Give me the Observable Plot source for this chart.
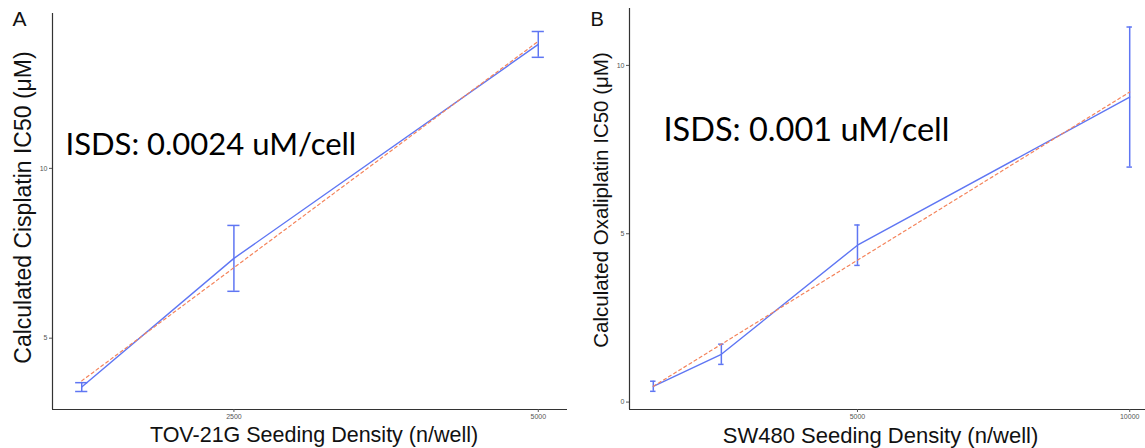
<!DOCTYPE html>
<html><head><meta charset="utf-8">
<script src="https://cdn.jsdelivr.net/npm/d3@7"></script>
<script src="https://cdn.jsdelivr.net/npm/@observablehq/plot@0.6"></script>
<style>
html,body{margin:0;padding:0;background:#fff;overflow:hidden;width:1145px;height:448px}
#wrap{position:relative;width:1145px;height:448px;overflow:hidden}
.panel{position:absolute;top:0}
</style></head><body><div id="wrap"></div>
<script>
// Panel A: TOV-21G, cisplatin
const densityA = [1250, 2500, 5000];
const ic50A = [3.56, 7.35, 13.65];
const errA = [0.13, 0.97, 0.38];
const xTicksA = [2500, 5000];
const yTicksA = [5, 10];
// Panel B: SW480, oxaliplatin
const densityB = [1250, 2500, 5000, 10000];
const ic50B = [0.47, 1.42, 4.66, 9.06];
const errB = [0.15, 0.30, 0.60, 2.08];
const xTicksB = [5000, 10000];
const yTicksB = [0, 5, 10];
// error bar cap width in data units (as ggplot geom_errorbar width)
const capWidth = 100;

const blue = "#5f76f3";
const orange = "#f4845c";

function panel(o) {
  const data = o.x.map((x, i) => ({x, y: o.y[i], lo: o.y[i] - o.e[i], hi: o.y[i] + o.e[i]}));
  const fmt = d3.format("d");
  return Plot.plot({
    width: o.width, height: 448,
    marginLeft: o.ml, marginRight: o.mr, marginTop: o.mt, marginBottom: 39,
    style: {fontFamily: "'Liberation Sans', Arial, sans-serif", background: "transparent", overflow: "visible"},
    x: {domain: o.xDomain},
    y: {domain: o.yDomain},
    marks: [
      Plot.ruleY([o.yDomain[0]], {stroke: "#333", strokeWidth: 1.2}),
      Plot.ruleX([o.xDomain[0]], {stroke: "#333", strokeWidth: 1.2}),
      Plot.axisX({ticks: o.xTicks, tickFormat: fmt, tickSize: 3, tickPadding: 2, fontSize: 7, color: "#555", label: null}),
      Plot.axisY({ticks: o.yTicks, tickFormat: fmt, tickSize: 3, tickPadding: 2, fontSize: 7, color: "#555", label: null}),
      Plot.line(data, {x: "x", y: "y", stroke: blue, strokeWidth: 1.4}),
      Plot.ruleX(data, {x: "x", y1: "lo", y2: "hi", stroke: blue, strokeWidth: 1.5}),
      Plot.ruleY(data, {y: "hi", x1: d => d.x - capWidth / 2, x2: d => d.x + capWidth / 2, stroke: blue, strokeWidth: 1.5}),
      Plot.ruleY(data, {y: "lo", x1: d => d.x - capWidth / 2, x2: d => d.x + capWidth / 2, stroke: blue, strokeWidth: 1.5}),
      Plot.linearRegressionY(data, {x: "x", y: "y", stroke: orange, strokeWidth: 1.2, strokeDasharray: "3,3", ci: 0}),
      Plot.text([o.yTitle], {frameAnchor: "left", textAnchor: "middle", lineAnchor: "middle", rotate: -90, dx: o.ytdx, dy: o.ytdy, fontSize: o.ytSize, fill: "#111"}),
      Plot.text([o.xTitle], {frameAnchor: "bottom", textAnchor: "middle", lineAnchor: "middle", dx: o.xtdx, dy: 26, fontSize: o.xtSize, fill: "#111"}),
      Plot.text([o.letter], {frameAnchor: "top-left", textAnchor: "start", lineAnchor: "top", dx: o.ldx, dy: o.ldy, fontSize: o.lSize, fill: "#111"}),
      Plot.text([o.note], {frameAnchor: "top-left", textAnchor: "start", lineAnchor: "top", dx: o.ndx, dy: o.ndy, fontSize: o.nSize, fill: "#000", fontFamily: "Lato, 'Open Sans', sans-serif"})
    ]
  });
}

const a = panel({
  x: densityA, y: ic50A, e: errA, xTicks: xTicksA, yTicks: yTicksA,
  width: 575, ml: 52, mr: 8, mt: 13,
  xDomain: [1010, 5240], yDomain: [2.9, 14.56],
  yTitle: "Calculated Cisplatin IC50 (μM)", ytdx: -29, ytdy: -4, ytSize: 23,
  xTitle: "TOV-21G Seeding Density (n/well)", xtdx: 4, xtSize: 21.5,
  letter: "A", ldx: -40, ldy: -2, lSize: 21,
  note: "ISDS: 0.0024 uM/cell", ndx: 13, ndy: 119, nSize: 31
});
a.classList.add("panel"); a.style.left = "0px";

const b = panel({
  x: densityB, y: ic50B, e: errB, xTicks: xTicksB, yTicks: yTicksB,
  width: 600, ml: 69, mr: 7, mt: 8,
  xDomain: [813, 10437], yDomain: [-0.22, 11.69],
  yTitle: "Calculated Oxaliplatin IC50 (μM)", ytdx: -28, ytdy: -9, ytSize: 20.5,
  xTitle: "SW480 Seeding Density (n/well)", xtdx: -11, xtSize: 22,
  letter: "B", ldx: -39, ldy: 3, lSize: 20,
  note: "ISDS: 0.001 uM/cell", ndx: 34, ndy: 109, nSize: 32.5
});
b.classList.add("panel"); b.style.left = "560px";

const wrap = document.getElementById("wrap");
wrap.appendChild(a);
wrap.appendChild(b);
</script>
</body></html>
